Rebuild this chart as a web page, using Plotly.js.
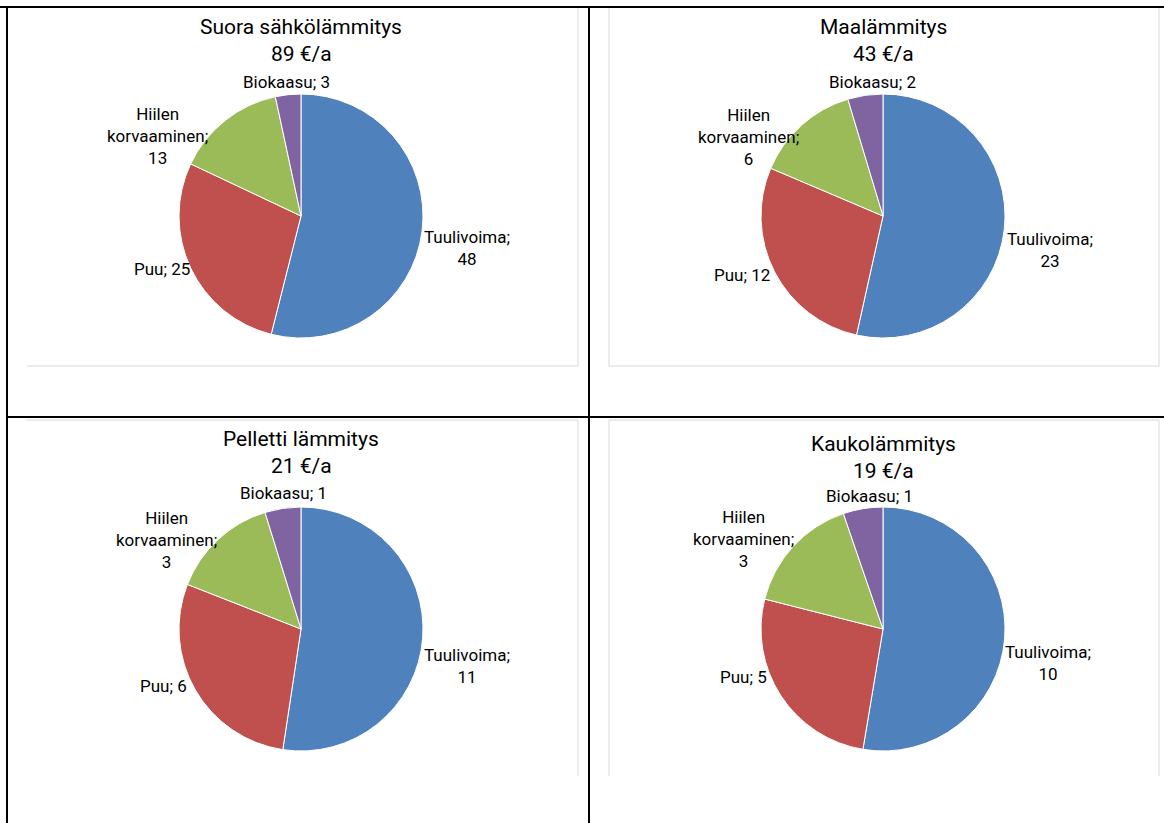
<!DOCTYPE html>
<html>
<head>
<meta charset="utf-8">
<script src="https://cdn.plot.ly/plotly-3.0.1.min.js"></script>
<style>
html,body{margin:0;padding:0;background:#fff;}
#chart{width:1164px;height:823px;}
</style>
</head>
<body>
<div id="chart"></div>
<script>
// ---- data ----
const categories = ['Tuulivoima', 'Puu', 'Hiilen korvaaminen', 'Biokaasu'];
const labelFormats = ['Tuulivoima;<br>{v}', 'Puu; {v}', 'Hiilen<br>korvaaminen;<br>{v}', 'Biokaasu; {v}'];
const chartNames = ['Suora sähkölämmitys', 'Maalämmitys', 'Pelletti lämmitys', 'Kaukolämmitys'];
const suoraValues = [48, 25, 13, 3];
const maaValues = [23, 12, 6, 2];
const pellettiValues = [11, 6, 3, 1];
const kaukoValues = [10, 5, 3, 1];
const sliceColors = ['#4F81BD', '#C0504D', '#9BBB59', '#8064A2'];

// ---- layout helpers ----
const W = 1164, H = 823;
const FONT = 'Roboto, "Liberation Sans", sans-serif';
const px = x => x / W;
const py = y => 1 - y / H;

const allValues = [suoraValues, maaValues, pellettiValues, kaukoValues];
// pie centres/radius, title rows and label offsets (page pixels, relative to pie centre)
const panels = [
  {cx: 301, cy: 216, r: 122, t1: 27, t2: 54, tx: 301,
   lab: [[166, 32], [-139, 53], [-144, -80], [-15, -134]]},
  {cx: 883, cy: 216, r: 122, t1: 27, t2: 54, tx: 883,
   lab: [[167, 34], [-141, 59], [-135, -79], [-11, -134]]},
  {cx: 301, cy: 629, r: 122, t1: 439, t2: 466, tx: 301,
   lab: [[166, 37], [-138, 57], [-135, -89], [-18, -136]]},
  {cx: 883, cy: 629, r: 122, t1: 444, t2: 471, tx: 883,
   lab: [[165, 34], [-139, 48], [-139, -90], [-14, -133]]}
];

const traces = [];
const annotations = [];
allValues.forEach((vals, i) => {
  const p = panels[i];
  const total = vals.reduce((a, b) => a + b, 0);
  traces.push({
    type: 'pie',
    labels: categories,
    values: vals,
    textinfo: 'none',
    textposition: 'none',
    sort: false,
    direction: 'clockwise',
    rotation: 0,
    marker: {colors: sliceColors, line: {color: '#ffffff', width: 1}},
    domain: {x: [px(p.cx - p.r), px(p.cx + p.r)], y: [py(p.cy + p.r), py(p.cy - p.r)]},
    hoverinfo: 'label+value',
    showlegend: false
  });
  annotations.push({
    xref: 'paper', yref: 'paper', x: px(p.tx), y: py(p.t1), xanchor: 'center', yanchor: 'middle',
    text: chartNames[i], showarrow: false, font: {family: FONT, size: 21, color: '#000'}
  });
  annotations.push({
    xref: 'paper', yref: 'paper', x: px(p.tx), y: py(p.t2), xanchor: 'center', yanchor: 'middle',
    text: total + ' €/a', showarrow: false, font: {family: FONT, size: 21, color: '#000'}
  });
  vals.forEach((v, k) => {
    annotations.push({
      xref: 'paper', yref: 'paper',
      x: px(p.cx + p.lab[k][0]), y: py(p.cy + p.lab[k][1]),
      xanchor: 'center', yanchor: 'middle', align: 'center',
      text: labelFormats[k].replace('{v}', v), showarrow: false,
      font: {family: FONT, size: 17, color: '#000'}
    });
  });
});

function line(x0, y0, x1, y1, color, width) {
  return {type: 'line', xref: 'paper', yref: 'paper', x0: px(x0), y0: py(y0), x1: px(x1), y1: py(y1),
          line: {color: color, width: width}, layer: 'above'};
}
const G = '#d9d9d9';
const shapes = [
  // chart-area borders (grey)
  line(27, 366, 578, 366, G, 1), line(578, 8, 578, 366, G, 1),
  line(609, 8, 609, 366, G, 1), line(609, 366, 1159, 366, G, 1), line(1159, 8, 1159, 366, G, 1),
  line(27, 420, 578, 420, G, 1), line(578, 420, 578, 776, G, 1),
  line(609, 420, 1159, 420, G, 1), line(609, 420, 609, 776, G, 1), line(1159, 420, 1159, 776, G, 1),
  // table borders (black)
  line(0, 7, W, 7, '#000', 2), line(7, 7, 7, H, '#000', 2),
  line(589, 7, 589, H, '#000', 2), line(7, 417, W, 417, '#000', 2)
];

const layout = {
  width: W, height: H,
  margin: {l: 0, r: 0, t: 0, b: 0},
  paper_bgcolor: '#ffffff',
  font: {family: FONT, color: '#000'},
  annotations: annotations,
  shapes: shapes,
  showlegend: false
};
Plotly.newPlot('chart', traces, layout, {displayModeBar: false, staticPlot: true});
</script>
</body>
</html>
